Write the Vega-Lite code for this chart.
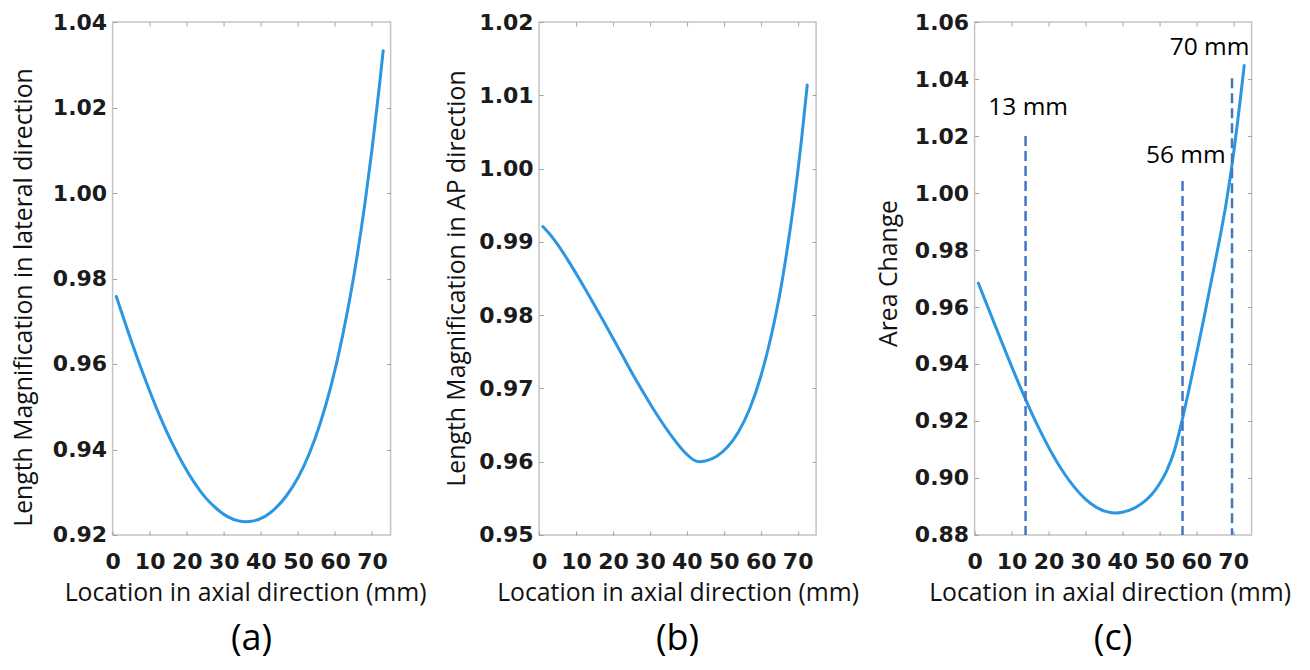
{
  "$schema": "https://vega.github.io/schema/vega-lite/v6.json",
  "padding": {"left": 10.6, "top": 10, "right": 0, "bottom": 0},
  "background": "white",
  "spacing": 15.5,
  "config": {
    "view": {"stroke": "#c4c4c4", "strokeWidth": 1.5},
    "axis": {
      "domain": false, "grid": false,
      "tickColor": "#a0a0a0", "tickSize": -4, "tickWidth": 1,
      "labelFont": "DejaVu Sans", "labelFontWeight": "bold", "labelFontSize": 22, "labelColor": "#1b1b1b",
      "labelFlush": false, "labelOverlap": false,
      "titleFont": "Open Sans", "titleFontSize": 24.8, "titleFontWeight": "normal", "titleColor": "#111111"
    },
    "title": {"font": "Open Sans", "fontSize": 36, "fontWeight": "normal", "color": "#000000"}
  },
  "datasets": {
    "a": [
      {"x": 1, "y": 0.9758}, {"x": 4, "y": 0.968}, {"x": 7, "y": 0.9606}, {"x": 10, "y": 0.9537},
      {"x": 13, "y": 0.9473}, {"x": 16, "y": 0.9416}, {"x": 19, "y": 0.9366}, {"x": 22, "y": 0.9323},
      {"x": 25, "y": 0.9288}, {"x": 28, "y": 0.9262}, {"x": 31, "y": 0.9243}, {"x": 34, "y": 0.9233},
      {"x": 36, "y": 0.9231}, {"x": 38, "y": 0.9233}, {"x": 41, "y": 0.9243}, {"x": 44, "y": 0.9263},
      {"x": 47, "y": 0.9293}, {"x": 50, "y": 0.9334}, {"x": 53, "y": 0.9389}, {"x": 56, "y": 0.9461},
      {"x": 59, "y": 0.9551}, {"x": 62, "y": 0.9664}, {"x": 65, "y": 0.9802}, {"x": 68, "y": 0.9971},
      {"x": 70, "y": 1.0103}, {"x": 72, "y": 1.0252}, {"x": 73, "y": 1.0333}
    ],
    "b": [
      {"x": 1, "y": 0.9921}, {"x": 2.8, "y": 0.9911}, {"x": 4.8, "y": 0.9898}, {"x": 8.3, "y": 0.9871},
      {"x": 12.8, "y": 0.9833}, {"x": 17.3, "y": 0.9793}, {"x": 21.8, "y": 0.9752}, {"x": 26.3, "y": 0.9711},
      {"x": 30.8, "y": 0.9673}, {"x": 35.3, "y": 0.9639}, {"x": 39.8, "y": 0.9611}, {"x": 42, "y": 0.9602},
      {"x": 43.4, "y": 0.96}, {"x": 45, "y": 0.9601}, {"x": 48, "y": 0.9607}, {"x": 51, "y": 0.962},
      {"x": 54, "y": 0.9641}, {"x": 57, "y": 0.9672}, {"x": 60, "y": 0.9716}, {"x": 63, "y": 0.9775},
      {"x": 65, "y": 0.9824}, {"x": 67, "y": 0.9884}, {"x": 69, "y": 0.9954}, {"x": 71, "y": 1.0037},
      {"x": 72.6, "y": 1.0114}
    ],
    "c": [
      {"x": 1, "y": 0.9684}, {"x": 3, "y": 0.9619}, {"x": 6, "y": 0.9521}, {"x": 9, "y": 0.9424},
      {"x": 12, "y": 0.933}, {"x": 15, "y": 0.9241}, {"x": 18, "y": 0.9159}, {"x": 21, "y": 0.9085},
      {"x": 24, "y": 0.9021}, {"x": 27, "y": 0.8968}, {"x": 30, "y": 0.8926}, {"x": 33, "y": 0.8897},
      {"x": 36, "y": 0.8881}, {"x": 38.2, "y": 0.8877}, {"x": 40, "y": 0.888}, {"x": 42, "y": 0.8887},
      {"x": 44, "y": 0.89}, {"x": 46, "y": 0.8918}, {"x": 48, "y": 0.8943}, {"x": 50, "y": 0.8978},
      {"x": 52, "y": 0.9025}, {"x": 54, "y": 0.9092}, {"x": 56, "y": 0.9192}, {"x": 58, "y": 0.9308},
      {"x": 60, "y": 0.943}, {"x": 62, "y": 0.9555}, {"x": 64, "y": 0.9685}, {"x": 66, "y": 0.9815},
      {"x": 68, "y": 0.9955}, {"x": 70, "y": 1.0127}, {"x": 72, "y": 1.0335}, {"x": 73, "y": 1.0447}
    ],
    "m": [
      {"pos": 13.8, "top": 1.02, "label": "13 mm", "lx": 14.5, "ly": 1.0298},
      {"pos": 56.3, "top": 1.0042, "label": "56 mm", "lx": 57.2, "ly": 1.013},
      {"pos": 69.7, "top": 1.0403, "label": "70 mm", "lx": 63.6, "ly": 1.0508}
    ]
  },
  "hconcat": [
    {
      "width": 278, "height": 513,
      "title": {"text": "(a)", "orient": "bottom", "frame": "group", "anchor": "middle", "offset": 16},
      "data": {"name": "a"},
      "layer": [
        {
          "mark": {"type": "line", "color": "#2b97e3", "strokeWidth": 3, "interpolate": "monotone", "strokeCap": "round"},
          "encoding": {
            "x": {"field": "x", "type": "quantitative", "scale": {"domain": [0, 75], "nice": false, "zero": false},
                  "axis": {"orient": "bottom", "values": [0, 10, 20, 30, 40, 50, 60, 70], "title": "Location in axial direction (mm)", "labelPadding": 21, "titlePadding": 8, "titleX": 132.5}},
            "y": {"field": "y", "type": "quantitative", "scale": {"domain": [0.92, 1.04], "nice": false, "zero": false},
                  "axis": {"orient": "left", "values": [0.92, 0.94, 0.96, 0.98, 1.0, 1.02, 1.04], "format": ".2f", "title": "Length Magnification in lateral direction", "labelPadding": 10, "titleX": -88, "titleY": 275, "titleBaseline": "middle"}}
          }
        },
        {
          "mark": {"type": "line", "strokeOpacity": 0},
          "encoding": {
            "x": {"field": "x", "type": "quantitative", "axis": {"orient": "top", "values": [10, 20, 30, 40, 50, 60, 70], "labels": false, "title": null}},
            "y": {"field": "y", "type": "quantitative", "axis": {"orient": "right", "values": [0.94, 0.96, 0.98, 1.0, 1.02], "labels": false, "title": null}}
          }
        }
      ],
      "resolve": {"axis": {"x": "independent", "y": "independent"}}
    },
    {
      "width": 277, "height": 513,
      "title": {"text": "(b)", "orient": "bottom", "frame": "group", "anchor": "middle", "offset": 16},
      "data": {"name": "b"},
      "layer": [
        {
          "mark": {"type": "line", "color": "#2b97e3", "strokeWidth": 3, "interpolate": "monotone", "strokeCap": "round"},
          "encoding": {
            "x": {"field": "x", "type": "quantitative", "scale": {"domain": [0, 75], "nice": false, "zero": false},
                  "axis": {"orient": "bottom", "values": [0, 10, 20, 30, 40, 50, 60, 70], "title": "Location in axial direction (mm)", "labelPadding": 21, "titlePadding": 8}},
            "y": {"field": "y", "type": "quantitative", "scale": {"domain": [0.95, 1.02], "nice": false, "zero": false},
                  "axis": {"orient": "left", "values": [0.95, 0.96, 0.97, 0.98, 0.99, 1.0, 1.01, 1.02], "format": ".2f", "title": "Length Magnification in AP direction", "labelPadding": 10, "titleX": -82, "titleY": 256, "titleBaseline": "middle"}}
          }
        },
        {
          "mark": {"type": "line", "strokeOpacity": 0},
          "encoding": {
            "x": {"field": "x", "type": "quantitative", "axis": {"orient": "top", "values": [10, 20, 30, 40, 50, 60, 70], "labels": false, "title": null}},
            "y": {"field": "y", "type": "quantitative", "axis": {"orient": "right", "values": [0.96, 0.97, 0.98, 0.99, 1.0, 1.01], "labels": false, "title": null}}
          }
        }
      ],
      "resolve": {"axis": {"x": "independent", "y": "independent"}}
    },
    {
      "width": 277, "height": 513,
      "title": {"text": "(c)", "orient": "bottom", "frame": "group", "anchor": "middle", "offset": 16},
      "data": {"name": "c"},
      "layer": [
        {
          "mark": {"type": "line", "color": "#2b97e3", "strokeWidth": 3, "interpolate": "monotone", "strokeCap": "round"},
          "encoding": {
            "x": {"field": "x", "type": "quantitative", "scale": {"domain": [0, 75], "nice": false, "zero": false},
                  "axis": {"orient": "bottom", "values": [0, 10, 20, 30, 40, 50, 60, 70], "title": "Location in axial direction (mm)", "labelPadding": 21, "titlePadding": 8, "titleX": 135}},
            "y": {"field": "y", "type": "quantitative", "scale": {"domain": [0.88, 1.06], "nice": false, "zero": false},
                  "axis": {"orient": "left", "values": [0.88, 0.9, 0.92, 0.94, 0.96, 0.98, 1.0, 1.02, 1.04, 1.06], "format": ".2f", "title": "Area Change", "labelPadding": 10, "titleX": -85, "titleY": 251, "titleBaseline": "middle"}}
          }
        },
        {
          "mark": {"type": "line", "strokeOpacity": 0},
          "encoding": {
            "x": {"field": "x", "type": "quantitative", "axis": {"orient": "top", "values": [10, 20, 30, 40, 50, 60, 70], "labels": false, "title": null}},
            "y": {"field": "y", "type": "quantitative", "axis": {"orient": "right", "values": [0.9, 0.92, 0.94, 0.96, 0.98, 1.0, 1.02, 1.04], "labels": false, "title": null}}
          }
        },
        {
          "data": {"name": "m"},
          "mark": {"type": "rule", "color": "#4377bf", "strokeWidth": 2.5, "strokeDash": [10, 5]},
          "encoding": {
            "x": {"field": "pos", "type": "quantitative", "axis": null},
            "y": {"field": "top", "type": "quantitative", "axis": null},
            "y2": {"datum": 0.88}
          }
        },
        {
          "data": {"name": "m"},
          "mark": {"type": "text", "font": "Open Sans", "fontSize": 24.5, "color": "#000000", "align": "center", "baseline": "middle"},
          "encoding": {
            "x": {"field": "lx", "type": "quantitative", "axis": null},
            "y": {"field": "ly", "type": "quantitative", "axis": null},
            "text": {"field": "label"}
          }
        }
      ],
      "resolve": {"axis": {"x": "independent", "y": "independent"}}
    }
  ]
}
